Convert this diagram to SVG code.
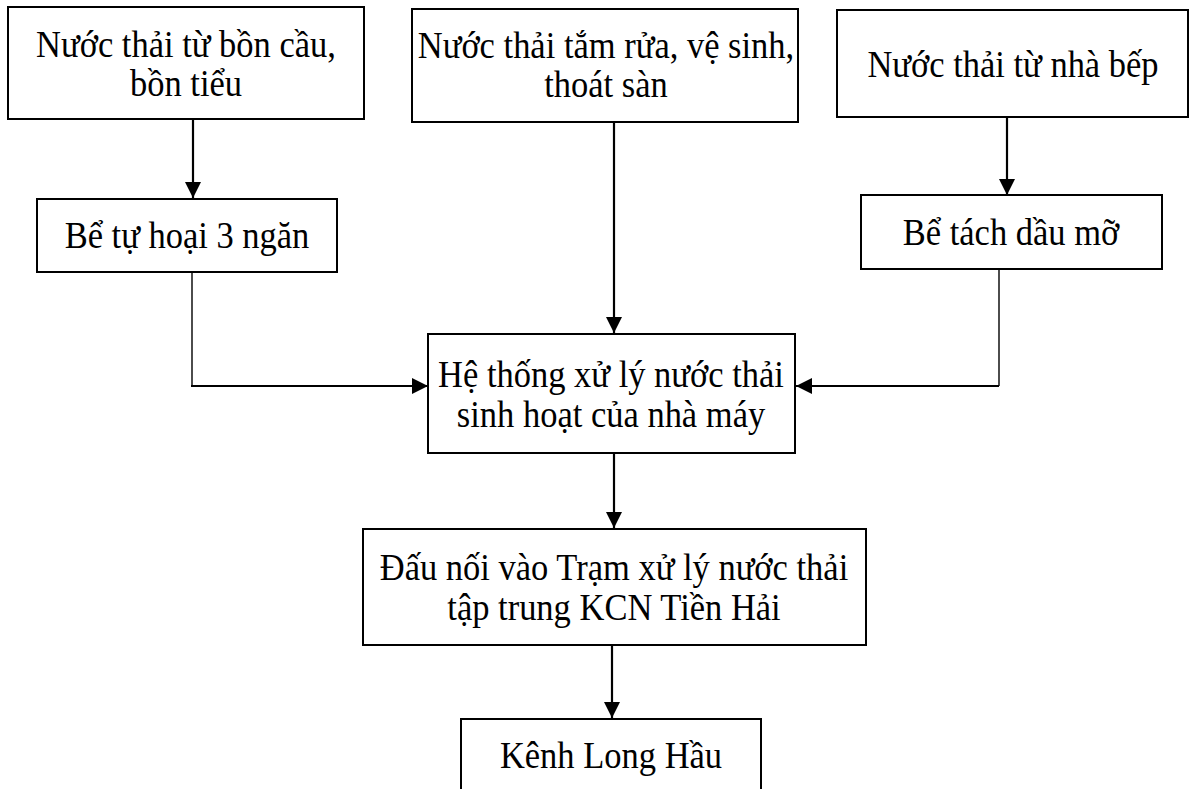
<svg xmlns="http://www.w3.org/2000/svg" width="1190" height="789" viewBox="0 0 1190 789">
<style>
.box{fill:#fff;stroke:#000;stroke-width:2}
.t{font-family:"Liberation Serif","Times New Roman",serif;font-size:34.5px;fill:#000;text-anchor:middle}
.c{fill:none;stroke:#000;stroke-width:2.2}
.thin{fill:none;stroke:#000;stroke-width:1.4}
</style>
<defs>
<marker id="ah" viewBox="0 0 16 16" refX="16" refY="8" markerWidth="16" markerHeight="16" markerUnits="userSpaceOnUse" orient="auto">
<path d="M0,0 L16,8 L0,16 Z" fill="#000"/>
</marker>
</defs>
<rect width="1190" height="789" fill="#fff"/>
<g id="connectors">
<line class="c" x1="193" y1="119" x2="193" y2="198" marker-end="url(#ah)"/>
<line class="c" x1="614" y1="122" x2="614" y2="333" marker-end="url(#ah)"/>
<line class="c" x1="1007" y1="117" x2="1007" y2="195" marker-end="url(#ah)"/>
<polyline class="thin" points="192,272 192,386"/>
<line class="c" x1="191" y1="386" x2="428" y2="386" marker-end="url(#ah)"/>
<polyline class="thin" points="999,269 999,386"/>
<line class="c" x1="999" y1="386" x2="796" y2="386" marker-end="url(#ah)"/>
<line class="c" x1="614" y1="453" x2="614" y2="528" marker-end="url(#ah)"/>
<line class="c" x1="612" y1="645" x2="612" y2="718" marker-end="url(#ah)"/>
</g>
<g id="n1">
<rect class="box" x="8" y="7" width="356" height="112"/>
<text class="t" transform="translate(186,57) scale(1,1.1)">Nước thải từ bồn cầu,</text>
<text class="t" transform="translate(186,96) scale(1,1.1)">bồn tiểu</text>
</g>
<g id="n2">
<rect class="box" x="412" y="9" width="386" height="113"/>
<text class="t" transform="translate(606,58) scale(1,1.1)">Nước thải tắm rửa, vệ sinh,</text>
<text class="t" transform="translate(606,97) scale(1,1.1)">thoát sàn</text>
</g>
<g id="n3">
<rect class="box" x="837" y="10" width="351" height="107"/>
<text class="t" transform="translate(1013,77) scale(1,1.1)">Nước thải từ nhà bếp</text>
</g>
<g id="n4">
<rect class="box" x="37" y="199" width="300" height="73"/>
<text class="t" transform="translate(187,248) scale(1,1.1)">Bể tự hoại 3 ngăn</text>
</g>
<g id="n5">
<rect class="box" x="861" y="195" width="301" height="74"/>
<text class="t" transform="translate(1011,245) scale(1,1.1)">Bể tách dầu mỡ</text>
</g>
<g id="n6">
<rect class="box" x="428" y="334" width="367" height="119"/>
<text class="t" transform="translate(611,387) scale(1,1.1)">Hệ thống xử lý nước thải</text>
<text class="t" transform="translate(611,427) scale(1,1.1)">sinh hoạt của nhà máy</text>
</g>
<g id="n7">
<rect class="box" x="363" y="529" width="503" height="116"/>
<text class="t" transform="translate(614,580) scale(1,1.1)">Đấu nối vào Trạm xử lý nước thải</text>
<text class="t" transform="translate(614,620) scale(1,1.1)">tập trung KCN Tiền Hải</text>
</g>
<g id="n8">
<rect class="box" x="461" y="719" width="300" height="80"/>
<text class="t" transform="translate(611,768) scale(1,1.1)">Kênh Long Hầu</text>
</g>
</svg>
